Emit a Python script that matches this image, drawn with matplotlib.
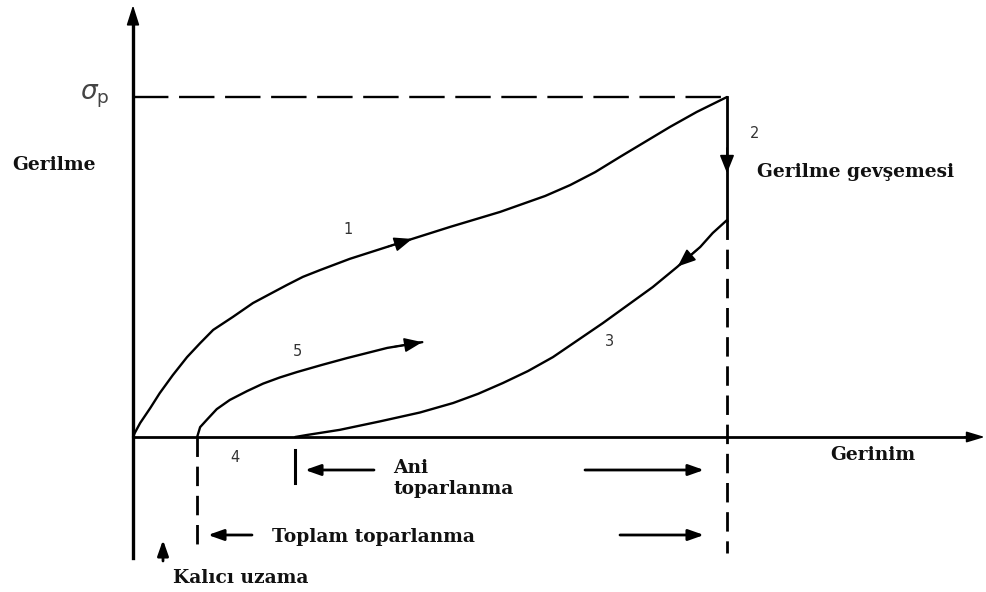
import numpy as np
import matplotlib.pyplot as plt
from matplotlib.patches import FancyArrowPatch

# strain and stress are normalised: strain 1 = end of loading, stress 1 = sigma_p
# path 1: loading
strain_load = [0, 0.003, 0.012, 0.029, 0.045, 0.067, 0.091, 0.113, 0.135, 0.168,
               0.202, 0.231, 0.259, 0.286, 0.315, 0.365, 0.449, 0.534, 0.618,
               0.694, 0.736, 0.778, 0.820, 0.862, 0.904, 0.949, 1.0]
stress_load = [0, 0.012, 0.041, 0.085, 0.129, 0.182, 0.235, 0.276, 0.315, 0.353,
               0.394, 0.421, 0.447, 0.471, 0.491, 0.524, 0.571, 0.618, 0.662,
               0.709, 0.741, 0.779, 0.824, 0.868, 0.912, 0.956, 1.0]
# path 2: stress relaxation at constant strain
relaxed_stress = 0.638
# path 3: unloading
strain_unload = [1.0, 0.976, 0.955, 0.916, 0.875, 0.833, 0.791, 0.749, 0.707,
                 0.665, 0.623, 0.581, 0.539, 0.483, 0.416, 0.348, 0.293, 0.273]
stress_unload = [0.638, 0.6, 0.559, 0.5, 0.441, 0.388, 0.335, 0.285, 0.235,
                 0.194, 0.159, 0.127, 0.1, 0.072, 0.046, 0.021, 0.006, 0.0]
# path 5: reloading after recovery
strain_reload = [0.108, 0.113, 0.125, 0.141, 0.163, 0.192, 0.219, 0.247, 0.276,
                 0.318, 0.360, 0.394, 0.428, 0.487]
stress_reload = [0, 0.029, 0.052, 0.082, 0.109, 0.135, 0.157, 0.175, 0.191,
                 0.212, 0.232, 0.247, 0.262, 0.279]

permanent_set = 0.108     # kalici uzama
instant_end = 0.273       # end of instant recovery

W, H = 986, 592
fig = plt.figure(figsize=(W / 100, H / 100), dpi=100)
ax = fig.add_axes([0, 0, 1, 1])
ax.set_xlim(-133 / 594, (W - 133) / 594)
ax.set_ylim(-155 / 340, (H - 155) / 340)
ax.axis('off')

LW = 1.7
line = dict(color='black', lw=LW, solid_joinstyle='round', solid_capstyle='round')
serif = dict(family='DejaVu Serif', weight='bold', fontsize=13.4, color='#111')
num = dict(family='DejaVu Sans', fontsize=10.5, color='#333')


def head(x0, y0, x1, y1, w=0.4, l=1.0):
    ax.annotate('', xy=(x1, y1), xytext=(x0, y0),
                arrowprops=dict(arrowstyle=f'-|>,head_length={l},head_width={w}',
                                color='black', lw=1.2, shrinkA=0, shrinkB=0,
                                mutation_scale=11))


def ftext(x, y, s, **kw):
    # place text in figure pixels (from top-left)
    fig.text(x / W, 1 - y / H, s, va='center', **kw)


def farrow(x0, y0, x1, y1):
    fig.add_artist(FancyArrowPatch(
        (x0 / W, 1 - y0 / H), (x1 / W, 1 - y1 / H), transform=fig.transFigure,
        arrowstyle='-|>,head_length=0.85,head_width=0.3', color='black',
        lw=2.0, shrinkA=0, shrinkB=0, mutation_scale=11))


# axes with arrows
head(0, 1.2, 0, 1.27, w=0.35, l=1.1)
ax.plot([0, 0], [-0.356, 1.22], color='black', lw=2.4)
head(1.40, 0, 1.434, 0, w=0.3, l=1.0)
ax.plot([0, 1.41], [0, 0], color='black', lw=2.0)

# dashed guides
ax.plot([0, 1.0], [1.0, 1.0], color='black', lw=LW, linestyle=(0, (15, 4.5)))
ax.plot([1.0, 1.0], [relaxed_stress, -0.341], color='black', lw=2.0,
        linestyle=(0, (7, 3.5)))
ax.plot([permanent_set, permanent_set], [0, -0.341], color='black', lw=2.0,
        linestyle=(0, (7, 3.5)))

# curves
ax.plot(strain_load, stress_load, **line)
ax.plot([1.0, 1.0], [1.0, relaxed_stress], color='black', lw=2.0)
ax.plot(strain_unload, stress_unload, **line)
ax.plot(strain_reload, stress_reload, **line)

# direction arrows on the paths
head(0.43, np.interp(0.43, strain_load, stress_load),
     0.47, np.interp(0.47, strain_load, stress_load))
head(1.0, 0.85, 1.0, 0.776)
su, ss = strain_unload[::-1], stress_unload[::-1]
head(0.95, np.interp(0.95, su, ss), 0.917, np.interp(0.917, su, ss))
head(0.44, np.interp(0.44, strain_reload, stress_reload),
     strain_reload[-1], stress_reload[-1])

# instant recovery tick
ax.plot([instant_end, instant_end], [-0.038, -0.135], color='black', lw=2.2)

# labels
ftext(80, 96, r'$\sigma_{\rm p}$', family='DejaVu Sans', fontsize=19, color='#444')
ftext(12, 165, 'Gerilme', **serif)
ftext(757, 172, 'Gerilme gevşemesi', **serif)
ftext(830, 455, 'Gerinim', **serif)
ftext(393, 468, 'Ani', **serif)
ftext(393, 489, 'toparlanma', **serif)
ftext(272, 537, 'Toplam toparlanma', **serif)
ftext(173, 578, 'Kalıcı uzama', **serif)

ftext(343, 230, '1', **num)
ftext(750, 134, '2', **num)
ftext(605, 342, '3', **num)
ftext(230, 457, '4', **num)
ftext(293, 352, '5', **num)

# recovery arrows
farrow(374, 470, 305, 470)
farrow(585, 470, 704, 470)
farrow(252, 535, 208, 535)
farrow(620, 535, 704, 535)
farrow(163, 561, 163, 540)

fig.savefig('out.png', dpi=100, facecolor='white')
